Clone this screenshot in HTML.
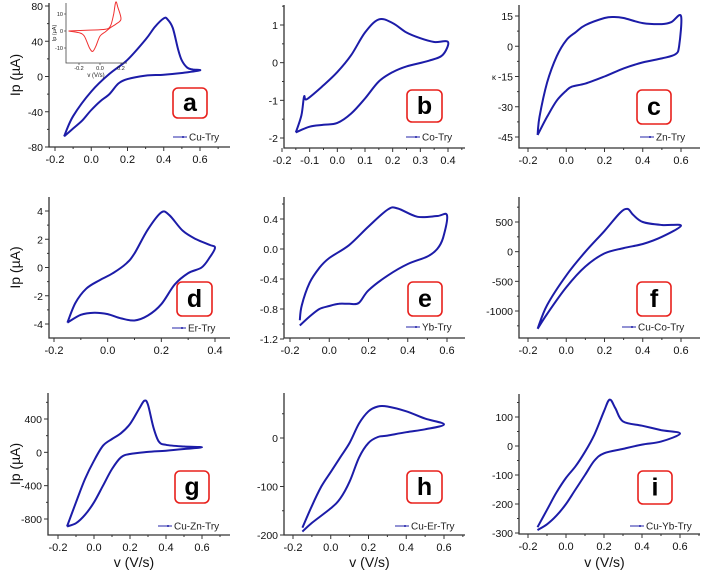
<!DOCTYPE html>
<html><head><meta charset="utf-8"><style>
html,body{margin:0;padding:0;background:#fff;}
svg{display:block;font-family:"Liberation Sans",sans-serif;}
</style></head><body>
<svg id="fig" width="702" height="578" viewBox="0 0 702 578" xmlns="http://www.w3.org/2000/svg"></svg>
<script>
// ---- data ----
const vA=[-0.15,-0.1,0,0.1,0.2,0.3,0.35,0.4,0.42,0.45,0.48,0.5,0.53,0.56,0.6,0.5,0.4,0.3,0.2,0.15,0.1,0.05,0,-0.05,-0.1,-0.15];
const iA=[-68,-45,-17,3,19,42,56,66,65,55,30,18,10,8,7,4,2,1,-3,-8,-20,-28,-38,-50,-59,-68];
const vInset=[-0.3,-0.1,0.05,0.1,0.13,0.15,0.17,0.2,0.15,0.1,0.05,0,-0.04,-0.07,-0.1,-0.15,-0.2,-0.3];
const iInset=[0,0.5,1,3,10,17,14,7,4,2,-0.5,-3,-9,-12,-10,-3,-1,0];
const vB=[-0.15,-0.13,-0.12,-0.11,-0.05,0,0.05,0.1,0.15,0.2,0.25,0.3,0.35,0.4,0.38,0.33,0.25,0.2,0.15,0.1,0.05,0,-0.05,-0.1,-0.15];
const iB=[-1.85,-1.4,-0.9,-0.97,-0.6,-0.25,0.2,0.8,1.15,1.05,0.8,0.65,0.55,0.55,0.2,0.05,-0.1,-0.25,-0.5,-0.95,-1.35,-1.6,-1.65,-1.7,-1.85];
const vC=[-0.15,-0.14,-0.1,-0.05,0,0.05,0.1,0.2,0.25,0.3,0.4,0.5,0.55,0.6,0.59,0.57,0.5,0.4,0.3,0.2,0.1,0.03,0,-0.05,-0.1,-0.15];
const iC=[-44,-35,-18,-5,3,7,10.5,14,14.5,14,11.5,11,12,15,0,-4,-6,-8,-11,-15,-18.5,-20,-22,-27,-35,-44];
const vD=[-0.15,-0.12,-0.08,-0.03,0.02,0.07,0.1,0.15,0.2,0.23,0.28,0.33,0.38,0.4,0.38,0.35,0.3,0.25,0.2,0.15,0.1,0.05,0,-0.05,-0.1,-0.15];
const iD=[-3.9,-2.5,-1.5,-0.9,-0.4,0.3,1,2.7,3.9,3.7,2.6,2,1.6,1.4,0.7,0,-0.4,-1.2,-2.6,-3.4,-3.75,-3.6,-3.3,-3.2,-3.35,-3.9];
const vE=[-0.15,-0.14,-0.1,-0.05,0,0.1,0.2,0.3,0.35,0.45,0.55,0.6,0.58,0.55,0.5,0.4,0.3,0.2,0.15,0.1,0.05,0,-0.05,-0.1,-0.15];
const iE=[-0.95,-0.75,-0.45,-0.25,-0.12,0.05,0.3,0.53,0.54,0.43,0.44,0.45,0.15,0,-0.1,-0.2,-0.35,-0.55,-0.72,-0.73,-0.73,-0.76,-0.8,-0.9,-1.02];
const vF=[-0.15,-0.1,0,0.1,0.2,0.28,0.32,0.35,0.4,0.5,0.6,0.5,0.4,0.3,0.2,0.1,0,-0.1,-0.15];
const iF=[-1300,-900,-400,0,350,650,720,620,500,450,440,250,130,60,-30,-250,-600,-1050,-1300];
const vG=[-0.15,-0.1,-0.05,0,0.05,0.1,0.15,0.2,0.25,0.28,0.3,0.33,0.36,0.4,0.5,0.6,0.5,0.4,0.3,0.2,0.15,0.1,0.05,0,-0.05,-0.1,-0.15];
const iG=[-890,-600,-320,-100,80,160,230,340,520,620,570,300,130,90,70,60,40,20,5,-20,-60,-200,-400,-600,-750,-850,-890];
const vH=[-0.15,-0.1,-0.05,0,0.05,0.1,0.15,0.2,0.25,0.3,0.4,0.5,0.6,0.5,0.4,0.3,0.25,0.2,0.15,0.1,0.05,0,-0.1,-0.15];
const iH=[-185,-140,-100,-70,-40,-10,30,55,65,65,55,40,28,18,12,5,2,-10,-40,-90,-125,-145,-175,-193];
const vI=[-0.15,-0.1,-0.05,0,0.05,0.1,0.15,0.2,0.23,0.26,0.3,0.4,0.5,0.6,0.5,0.4,0.3,0.2,0.15,0.1,0.05,0,-0.05,-0.1,-0.15];
const iI=[-280,-220,-160,-110,-70,-20,40,120,160,130,85,70,55,43,15,5,-10,-25,-50,-100,-150,-200,-240,-270,-290];
const yTicksA=[80,40,0,-40,-80], yTicksB=[1,0,-1,-2], yTicksC=[15,0,-15,-30,-45];
const yTicksD=[4,2,0,-2,-4], yTicksE=[0.4,0.0,-0.4,-0.8,-1.2], yTicksF=[500,0,-500,-1000];
const yTicksG=[400,0,-400,-800], yTicksH=[0,-100,-200], yTicksI=[100,0,-100,-200,-300];
const xTicks6=[-0.2,0,0.2,0.4,0.6], xTicksB=[-0.2,-0.1,0,0.1,0.2,0.3,0.4], xTicksD=[-0.2,0,0.2,0.4];
const legends=["Cu-Try","Co-Try","Zn-Try","Er-Try","Yb-Try","Cu-Co-Try","Cu-Zn-Try","Cu-Er-Try","Cu-Yb-Try"];
const letters=["a","b","c","d","e","f","g","h","i"];

const NS="http://www.w3.org/2000/svg";
const svg=document.getElementById('fig');
function mk(tag,attrs,parent){const e=document.createElementNS(NS,tag);for(const k in attrs)e.setAttribute(k,attrs[k]);(parent||svg).appendChild(e);return e;}
function lin(d1,p1,d2,p2){return v=>p1+(v-d1)*(p2-p1)/(d2-d1);}
function smoothPath(pts){let d="M"+pts[0][0].toFixed(1)+","+pts[0][1].toFixed(1);
 for(let i=0;i<pts.length-1;i++){const p0=pts[Math.max(0,i-1)],p1=pts[i],p2=pts[i+1],p3=pts[Math.min(pts.length-1,i+2)];
  const c1=[p1[0]+(p2[0]-p0[0])/6,p1[1]+(p2[1]-p0[1])/6],c2=[p2[0]-(p3[0]-p1[0])/6,p2[1]-(p3[1]-p1[1])/6];
  d+="C"+c1[0].toFixed(1)+","+c1[1].toFixed(1)+" "+c2[0].toFixed(1)+","+c2[1].toFixed(1)+" "+p2[0].toFixed(1)+","+p2[1].toFixed(1);}
 return d;}
function fmt(t,dec){return t.toFixed(dec);}

const panels=[
 {L:49,T:3,R:230,B:147,x:[-0.2,55,0.6,200],y:[80,6,-80,147],yt:yTicksA,xt:xTicks6,xd:1,yd:0,v:vA,i:iA,box:[173,88,207,118],lg:[173,137],ylab:true},
 {L:284,T:5,R:465,B:148,x:[-0.2,282,0.4,448],y:[1,25,-2,138],yt:yTicksB,xt:xTicksB,xd:1,yd:0,v:vB,i:iB,box:[407,90,442,122],lg:[406,137]},
 {L:519,T:5,R:700,B:148,x:[-0.2,528,0.6,681],y:[15,16,-45,137],yt:yTicksC,xt:xTicks6,xd:1,yd:0,v:vC,i:iC,box:[637,90,671,124],lg:[640,137],kappa:true},
 {L:49,T:197,R:230,B:338,x:[-0.2,54,0.4,215],y:[4,211,-4,324],yt:yTicksD,xt:xTicksD,xd:1,yd:0,v:vD,i:iD,box:[177,282,212,316],lg:[172,328],ylab:true},
 {L:284,T:197,R:465,B:338,x:[-0.2,290,0.6,447],y:[0.4,219,-1.2,339],yt:yTicksE,xt:xTicks6,xd:1,yd:1,v:vE,i:iE,box:[408,282,442,316],lg:[406,327]},
 {L:519,T:197,R:700,B:338,x:[-0.2,528,0.6,681],y:[500,222,-1000,311],yt:yTicksF,xt:xTicks6,xd:1,yd:0,v:vF,i:iF,box:[637,282,671,316],lg:[622,327]},
 {L:48,T:393,R:230,B:535,x:[-0.2,58,0.6,202],y:[400,419,-800,519],yt:yTicksG,xt:xTicks6,xd:1,yd:0,v:vG,i:iG,box:[175,471,209,503],lg:[158,526],ylab:true,xlab:true},
 {L:284,T:393,R:465,B:535,x:[-0.2,293,0.6,444],y:[0,438,-200,535],yt:yTicksH,xt:xTicks6,xd:1,yd:0,v:vH,i:iH,box:[407,471,442,503],lg:[395,526],xlab:true},
 {L:519,T:394,R:700,B:534,x:[-0.2,528,0.6,680],y:[100,417,-300,533],yt:yTicksI,xt:xTicks6,xd:1,yd:0,v:vI,i:iI,box:[638,471,672,504],lg:[630,526],xlab:true}
];

panels.forEach((p,k)=>{
 const g=mk('g',{});
 
 
 const X=lin(...p.x), Y=lin(...p.y);
 const ax=mk('path',{d:`M${p.L},${p.T}V${p.B}H${p.R}`,fill:'none',stroke:'#333','stroke-width':1.3},g);
 
 
 const ystep=p.yt[0]-p.yt[1];
 p.yt.forEach(t=>{const y=Y(t);
  mk('line',{x1:p.L-4,x2:p.L,y1:y,y2:y,stroke:'#333','stroke-width':1},g);
  const m=Y(t-ystep/2); if(m<p.B-1&&m>p.T) mk('line',{x1:p.L-2,x2:p.L,y1:m,y2:m,stroke:'#333','stroke-width':1},g);
  const m2=Y(t+ystep/2); if(t===p.yt[0]&&m2>p.T) mk('line',{x1:p.L-2,x2:p.L,y1:m2,y2:m2,stroke:'#333','stroke-width':1},g);
  const tx=mk('text',{x:p.L-6,y:y+4,'text-anchor':'end','font-size':10.5,fill:'#111'},g);
  tx.textContent=fmt(t,p.yd);
  
  
 });
 const xstep=p.xt[1]-p.xt[0];
 p.xt.forEach(t=>{const x=X(t);
  mk('line',{x1:x,x2:x,y1:p.B,y2:p.B+4,stroke:'#333','stroke-width':1},g);
  const m=X(t+xstep/2); if(m<p.R) mk('line',{x1:m,x2:m,y1:p.B,y2:p.B+2,stroke:'#333','stroke-width':1},g);
  const tx=mk('text',{x:x,y:p.B+16,'text-anchor':'middle','font-size':11,fill:'#111'},g);
  tx.textContent=fmt(t,p.xd);
  
  
 });
 const pts=p.v.map((v,j)=>[X(v),Y(p.i[j])]);
 const cv=mk('path',{d:smoothPath(pts),fill:'none',stroke:'#1c1ca8','stroke-width':2},g);
 
 
 const b=p.box;
 const r=mk('rect',{x:b[0],y:b[1],width:b[2]-b[0],height:b[3]-b[1],rx:5,fill:'#fff',stroke:'#e8201c','stroke-width':1.6},g);
 
 
 const lt=mk('text',{x:(b[0]+b[2])/2,y:(b[1]+b[3])/2+8,'text-anchor':'middle','font-size':25,'font-weight':'bold',fill:'#000'},g);
 lt.textContent=letters[k];
 
 
 const lg=mk('g',{},g);
 
 
 mk('line',{x1:p.lg[0],x2:p.lg[0]+14,y1:p.lg[1],y2:p.lg[1],stroke:'#4a4ab8','stroke-width':1.2},lg);
 mk('circle',{cx:p.lg[0]+10,cy:p.lg[1],r:1,fill:'#1c1ca8'},lg);
 const lt2=mk('text',{x:p.lg[0]+16,y:p.lg[1]+3.5,'font-size':10,fill:'#222'},lg);
 lt2.textContent=legends[k];
 if(p.ylab){const yl=mk('text',{x:0,y:0,transform:`translate(20,${(p.T+p.B)/2}) rotate(-90)`,'text-anchor':'middle','font-size':14,fill:'#111'},g);
  yl.textContent='Ip (\u00b5A)';
  
  }
 if(p.xlab){const xl=mk('text',{x:(p.L+p.R)/2-5,y:567,'text-anchor':'middle','font-size':14,fill:'#111'},g);
  xl.textContent='v (V/s)';
  
  }
 if(p.kappa){const kp=mk('text',{x:494,y:80,'text-anchor':'middle','font-size':8,fill:'#111'},g);
  kp.textContent='\u03ba';
  
  }
});

(function(){
 const g=mk('g',{});
 
 
 const X=lin(-0.2,79,0.2,121), Y=lin(10,14,-10,48);
 mk('path',{d:'M66,3V63H127',fill:'none',stroke:'#444','stroke-width':0.8},g);
 [10,0,-10].forEach(t=>{mk('line',{x1:64,x2:66,y1:Y(t),y2:Y(t),stroke:'#444','stroke-width':0.7},g);
  const tx=mk('text',{x:63,y:Y(t)+2,'text-anchor':'end','font-size':5.5,fill:'#222'},g);tx.textContent=String(t);});
 [-0.2,0.0,0.2].forEach(t=>{mk('line',{x1:X(t),x2:X(t),y1:63,y2:65,stroke:'#444','stroke-width':0.7},g);
  const tx=mk('text',{x:X(t),y:70,'text-anchor':'middle','font-size':5.5,fill:'#222'},g);tx.textContent=t.toFixed(1);});
 const yl=mk('text',{x:0,y:0,transform:'translate(56,33) rotate(-90)','text-anchor':'middle','font-size':5.5,fill:'#222'},g);yl.textContent='Ip (\u00b5A)';
 const xl=mk('text',{x:96,y:77,'text-anchor':'middle','font-size':6,fill:'#222'},g);xl.textContent='v (V/s)';
 const pts=vInset.map((v,j)=>[X(v),Y(iInset[j])]);
 const c=mk('path',{d:smoothPath(pts),fill:'none',stroke:'#f03030','stroke-width':1},g);
 
 
})();
</script>
</body></html>
